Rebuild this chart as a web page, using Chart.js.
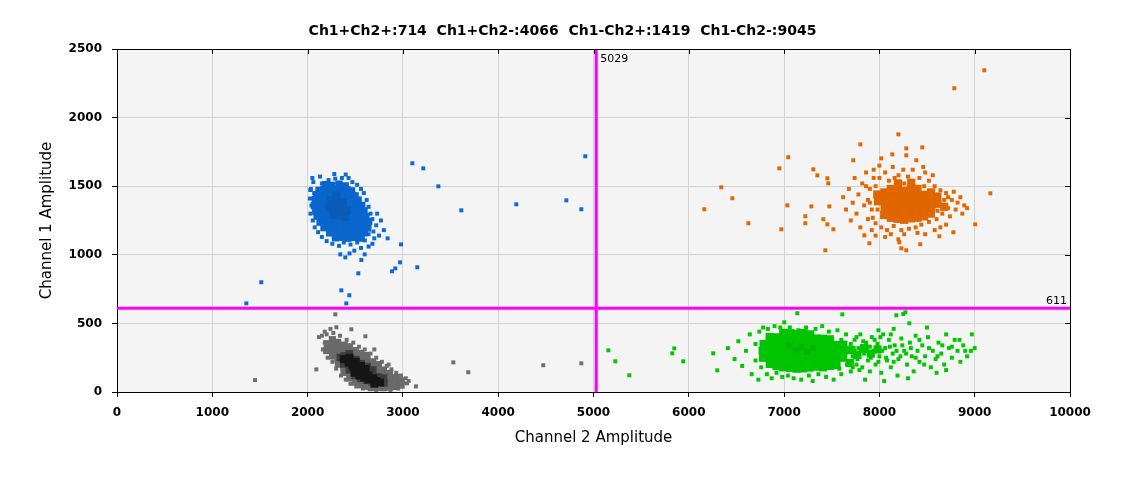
<!DOCTYPE html>
<html>
<head>
<meta charset="utf-8">
<script src="https://cdn.jsdelivr.net/npm/chart.js@4.4.1/dist/chart.umd.min.js"></script>
<style>
  html, body { margin: 0; padding: 0; background: #fff; }
  #wrap { width: 1125px; height: 478px; position: relative; }
</style>
</head>
<body>
<div id="wrap"><canvas id="grafico"></canvas></div>
<script>
const titulo = 'Ch1+Ch2+:714  Ch1+Ch2-:4066  Ch1-Ch2+:1419  Ch1-Ch2-:9045';
const umbralX = 5029;
const umbralY = 611;
const ejeX = { min: 0, max: 10000, paso: 1000 };
const ejeY = { min: 0, max: 2500, paso: 500 };

// Ch1+Ch2- (azul)
const azulCentro = [[2250,1400],[2310,1392],[2372,1380],[2228,1346],[2290,1340],[2352,1332],[2412,1322],[2270,1292],[2332,1286],[2392,1276],[2302,1432]];
const azulCuerpo = [
  [2190,1512],[2255,1506],[2330,1515],[2395,1502],
  [2120,1470],[2172,1478],[2236,1472],[2290,1480],[2352,1468],[2412,1474],[2462,1466],
  [2092,1438],[2150,1444],[2206,1436],[2265,1442],[2322,1434],[2381,1445],[2440,1437],[2498,1430],
  [2080,1402],[2132,1396],[2190,1404],[2246,1398],[2302,1406],[2360,1395],[2421,1401],[2476,1394],[2530,1399],
  [2072,1358],[2126,1364],[2181,1356],[2241,1362],[2296,1355],[2351,1363],[2411,1357],[2466,1361],[2521,1354],[2568,1360],
  [2086,1318],[2141,1324],[2196,1316],[2256,1322],[2311,1317],[2371,1325],[2426,1318],[2481,1323],[2541,1316],[2592,1320],
  [2100,1282],[2161,1276],[2216,1284],[2271,1278],[2331,1283],[2386,1275],[2446,1281],[2501,1277],[2556,1284],[2612,1278],
  [2131,1238],[2186,1244],[2241,1236],[2301,1242],[2356,1237],[2416,1245],[2471,1238],[2526,1243],[2586,1236],[2641,1241],
  [2172,1198],[2226,1204],[2286,1196],[2341,1203],[2401,1197],[2456,1204],[2511,1196],[2571,1202],[2626,1195],
  [2232,1160],[2291,1156],[2351,1163],[2411,1157],[2466,1162],[2526,1155],[2592,1160],
  [2292,1124],[2362,1128],[2422,1121],[2482,1127],[2552,1122]
];
const azulBorde = [
  [2035,1480],[2025,1410],[2040,1360],[2030,1300],[2055,1250],[2075,1200],[2110,1165],[2150,1130],[2200,1100],[2260,1080],
  [2330,1065],[2380,1090],[2450,1075],[2520,1090],[2600,1105],[2640,1150],[2690,1170],[2720,1215],[2680,1260],[2660,1300],
  [2640,1350],[2620,1400],[2590,1450],[2560,1480],[2520,1510],[2470,1530],[2430,1560],[2360,1560],[2290,1555],[2220,1545],
  [2150,1520],[2070,1450],[2060,1530],[2130,1570],[2400,1585],[2750,1140],[2770,1250],[2700,1120],[2560,1050],[2490,1030],
  [2440,1010],[2640,1060],[2730,1300],[2650,1200],[2610,1160],[2580,1130],[2680,1080],[2800,1180],[2840,1120],[2050,1560],
  [3099,1667],[3214,1630],[3372,1499],[3613,1324],[4190,1368],[4715,1397],[4872,1332],[4914,1718],[2980,1076],[3151,909],
  [2970,945],[2920,901],[2886,880],[2532,865],[2564,962],[2599,1003],[2396,981],[2343,1003],[2280,1589],[2028,1472],
  [1514,800],[1357,646],[2354,741],[2438,705],[2406,646]
];

// Ch1-Ch2- (gris)
const grisCentro = [[2430,215],[2440,250],[2480,182],[2492,140],[2506,220],[2540,162],[2544,120],[2586,142],[2594,104],[2640,122],[2646,90],[2690,100],[2560,190],[2610,168],[2720,80],[2470,200],[2380,240],[2760,70],[2700,60]];
const grisMedio = [[2380,205],[2384,262],[2440,162],[2446,222],[2438,278],[2500,122],[2496,178],[2504,236],[2560,100],[2556,152],[2564,206],[2620,86],[2616,132],[2624,186],[2680,76],[2676,116],[2684,160],[2740,70],[2736,110],[2800,66],[2796,102],[2344,252]];
const grisCuerpo = [
  [2200,302],[2205,352],
  [2262,262],[2258,300],[2265,342],[2260,382],
  [2322,202],[2318,242],[2325,282],[2320,322],[2316,362],
  [2382,142],[2378,182],[2385,222],[2380,262],[2376,302],[2384,342],
  [2442,102],[2438,142],[2445,182],[2440,222],[2436,262],[2444,300],[2440,330],
  [2502,72],[2498,112],[2505,152],[2500,192],[2496,232],[2504,270],[2500,302],
  [2562,52],[2558,92],[2565,132],[2560,172],[2556,212],[2564,250],[2560,282],
  [2622,42],[2618,76],[2625,116],[2620,156],[2616,196],[2624,236],[2620,266],
  [2682,32],[2678,66],[2685,102],[2680,142],[2676,182],[2684,220],
  [2742,32],[2738,62],[2745,96],[2740,132],[2736,170],[2744,200],
  [2802,32],[2798,62],[2805,96],[2800,130],[2796,160],
  [2862,36],[2858,70],[2865,104],[2860,136],
  [2922,40],[2918,76],[2925,106],
  [2982,50],[2978,82]
];
const grisBorde = [
  [2150,410],[2180,360],[2160,310],[2210,250],[2260,220],[2300,170],[2350,120],[2400,90],[2450,60],[2510,40],
  [2580,25],[2650,20],[2720,15],[2800,20],[2870,15],[2950,25],[3000,70],[3030,100],[2980,120],[2930,140],
  [2880,165],[2830,190],[2780,220],[2720,250],[2660,280],[2600,310],[2540,330],[2480,360],[2410,380],[2340,410],
  [2270,430],[2200,420],[2120,400],[2240,460],[2180,440],[2960,55],[3060,80],[2910,110],[2850,200],[2700,310],
  [2291,566],[2302,472],[2459,457],[2606,406],[2091,165],[3137,41],[3043,63],[3529,216],[3686,144],[4473,195],
  [4872,209],[1448,87]
];

// Ch1-Ch2+ (verde)
const verdeCentro = [[7120,300],[7180,330],[7240,290],[7300,320],[7060,340]];
const verdeCuerpo = [
  [6780,250],[6775,300],[6785,350],
  [6850,205],[6845,255],[6855,300],[6850,350],[6848,400],
  [6920,190],[6925,245],[6918,292],[6922,345],[6920,398],
  [6990,180],[6985,232],[6995,288],[6990,340],[6988,392],[6992,430],
  [7060,176],[7065,226],[7058,280],[7062,330],[7060,384],[7064,428],
  [7130,170],[7125,222],[7135,276],[7130,326],[7128,378],[7132,424],
  [7200,172],[7205,226],[7198,280],[7202,332],[7200,382],[7204,430],
  [7270,178],[7265,230],[7275,282],[7270,334],[7268,386],[7272,420],
  [7340,185],[7345,236],[7338,288],[7342,336],[7340,390],
  [7410,180],[7405,232],[7415,284],[7410,336],[7408,388],
  [7480,190],[7485,240],[7478,290],[7482,340],[7480,384],
  [7550,196],[7545,246],[7555,294],[7550,342],
  [7620,250],[7618,298],[7622,345],
  [7690,212],[7695,305],
  [7770,270],[7840,320],[7910,280],[7980,310]
];
const verdeBorde = [
  [6410,320],[6480,240],[6520,370],[6560,190],[6600,300],[6640,420],[6660,130],[6700,350],[6700,230],[6730,90],
  [6740,440],[6760,180],[6780,470],[6820,130],[6830,460],[6870,100],[6900,480],[6920,140],[6960,470],[6980,110],
  [7040,120],[7060,470],[7100,100],[7150,450],[7180,90],[7230,470],[7260,120],[7300,80],[7330,460],[7360,130],
  [7400,480],[7440,110],[7470,440],[7520,90],[7560,450],[7600,130],[7650,420],[7700,150],
  [7720,260],[7740,380],[7760,200],[7780,320],[7800,420],[7820,180],[7840,280],[7860,360],[7880,230],[7900,150],
  [7920,400],[7940,300],[7960,200],[7980,350],[8000,260],[8020,140],[8040,420],[8060,320],[8080,230],[8100,380],
  [8120,180],[8140,280],[8160,340],[8190,120],[8200,240],[8230,390],[8260,300],[8290,200],[8320,360],[8340,260],
  [8360,150],[8380,410],[8400,300],[8420,220],[8450,340],[8480,260],[8510,400],[8540,180],[8560,300],[8590,240],
  [8620,360],[8650,280],[8680,200],[8700,420],[8730,320],[8760,250],[8790,380],[8820,300],[8850,220],[8880,340],
  [8920,260],[8960,300],[9000,320],[8970,420],[8600,140],[8300,100],[8050,80],[7850,90],[7990,450],[8150,460],
  [8500,470],[8700,160],[7730,320],[7770,240],[7800,300],[7830,370],[7870,300],[7910,250],[7950,380],[7990,220],
  [8030,300],[8070,250],[8110,330],[8150,220],[8180,300],[8220,260],[8240,340],[8280,280],[7760,400],[7720,180],
  [7790,160],[7900,330],[8010,400],[8120,420],[7600,380],[7660,200],[7700,350],[7580,170],[7640,300],[7740,300],
  [8330,320],[8420,380],[8470,200],[8520,320],[8610,260],[8660,340],[8760,330],[8840,380],[8900,300],[8380,250],
  [5156,304],[5229,224],[5376,122],[5827,282],[5848,318],[5942,224],[6257,282],[6299,158],[7139,574],[7611,566],
  [8178,559],[8251,568],[8272,581],[7002,508],[8314,501]
];

// Ch1+Ch2+ (naranja)
const naranjaCuerpo = [
  [7985,1390],[7978,1440],
  [8050,1290],[8055,1345],[8048,1400],[8052,1455],
  [8120,1270],[8125,1322],[8118,1375],[8122,1430],[8120,1480],
  [8190,1262],[8195,1315],[8188,1368],[8192,1420],[8190,1472],[8194,1520],
  [8260,1255],[8265,1310],[8258,1362],[8262,1415],[8260,1466],
  [8330,1265],[8335,1318],[8328,1370],[8332,1424],[8330,1476],[8334,1525],
  [8400,1270],[8405,1322],[8398,1376],[8402,1430],[8400,1480],
  [8470,1280],[8475,1332],[8468,1385],[8472,1438],
  [8540,1300],[8545,1352],[8538,1405],[8542,1455],
  [8610,1372],[8608,1425],
  [8680,1350]
];
const naranjaBorde = [
  [7620,1420],[7650,1330],[7680,1480],[7700,1250],[7720,1380],[7740,1560],[7760,1300],[7780,1440],[7800,1200],[7820,1520],
  [7840,1360],[7860,1600],[7880,1260],[7900,1480],[7920,1180],[7940,1560],[7960,1230],[7880,1400],[7920,1330],[7940,1620],
  [8000,1560],[8020,1200],[8060,1600],[8080,1180],[8100,1540],[8140,1640],[8150,1210],[8200,1580],[8230,1180],[8250,1620],
  [8300,1570],[8310,1190],[8350,1620],[8380,1200],[8420,1560],[8440,1220],[8480,1600],[8520,1540],[8520,1240],[8580,1500],
  [8600,1260],[8640,1470],[8660,1300],[8700,1450],[8720,1340],[8740,1280],[8760,1400],[8780,1460],[8800,1330],[8820,1380],
  [8850,1420],[8870,1300],[8890,1360],[8920,1340],[8700,1220],[8580,1180],[8060,1130],[7960,1140],[8120,1150],[8260,1150],
  [8400,1160],[8480,1150],[8640,1200],[8560,1580],[8460,1640],[8000,1650],[7860,1500],[7980,1330],[8680,1400],[8470,1500],
  [8610,1320],[8260,1520],[7960,1500],[8560,1410],[8720,1420],[7900,1380],[7930,1270],[8160,1560],
  [8199,1878],[7800,1805],[8450,1783],[8282,1776],[8282,1725],[8135,1732],[8387,1689],[7044,1711],[6950,1630],[7726,1689],
  [8020,1703],[7307,1623],[7349,1579],[6341,1492],[6457,1412],[6163,1332],[6625,1230],[6971,1186],[7034,1360],[7286,1353],
  [7223,1281],[7223,1230],[7412,1259],[7433,1033],[7454,1558],[7464,1521],[7475,1353],[7454,1222],[7517,1186],[7895,1084],
  [7842,1142],[8199,1113],[8209,1091],[8230,1047],[8282,1033],[8429,1077],[8629,1135],[8776,1164],[9006,1222],[9164,1448],
  [9101,2345],[8786,2214]
];

const pts = arr => arr.map(([x, y]) => ({ x, y }));

function nube(datos, color, radio) {
  return {
    type: 'scatter',
    data: pts(datos),
    backgroundColor: color,
    borderWidth: 0,
    pointStyle: 'rect',
    pointRadius: radio,
    pointHoverRadius: radio
  };
}

function linea(datos) {
  return {
    type: 'line',
    data: datos,
    borderColor: '#ff00ff',
    borderWidth: 3,
    pointRadius: 0,
    fill: false
  };
}

const marco = {
  id: 'marco',
  beforeDraw(chart) {
    const { ctx, chartArea: a } = chart;
    ctx.save();
    ctx.fillStyle = '#f4f4f4';
    ctx.fillRect(a.left, a.top, a.right - a.left, a.bottom - a.top);
    ctx.restore();
  },
  afterDraw(chart) {
    const { ctx, chartArea: a, scales } = chart;
    ctx.save();
    ctx.strokeStyle = '#000';
    ctx.lineWidth = 1;
    ctx.beginPath();
    ctx.moveTo(a.left, a.top + 0.5);
    ctx.lineTo(a.right + 0.5, a.top + 0.5);
    ctx.lineTo(a.right + 0.5, a.bottom);
    // marcas interiores arriba y derecha
    scales.x.ticks.forEach(t => {
      const px = Math.round(scales.x.getPixelForValue(t.value)) + 0.5;
      ctx.moveTo(px, a.top);
      ctx.lineTo(px, a.top + 5);
    });
    scales.y.ticks.forEach(t => {
      const py = Math.round(scales.y.getPixelForValue(t.value)) + 0.5;
      ctx.moveTo(a.right, py);
      ctx.lineTo(a.right - 5, py);
    });
    ctx.stroke();

    ctx.fillStyle = '#000';
    ctx.font = 'bold 14px "DejaVu Sans"';
    ctx.textAlign = 'center';
    ctx.textBaseline = 'middle';
    ctx.fillText(titulo, chart.width / 2, 31);

    ctx.font = '11px "DejaVu Sans"';
    ctx.textAlign = 'left';
    ctx.fillText(String(umbralX), scales.x.getPixelForValue(umbralX) + 4, a.top + 10);
    ctx.textAlign = 'right';
    ctx.fillText(String(umbralY), a.right - 3, scales.y.getPixelForValue(umbralY) - 7);
    ctx.restore();
  }
};

const fuenteTicks = { family: 'DejaVu Sans', size: 12, weight: 'bold' };

new Chart(document.getElementById('grafico'), {
  type: 'scatter',
  data: {
    datasets: [
      linea([{ x: umbralX, y: ejeY.min }, { x: umbralX, y: ejeY.max }]),
      linea([{ x: ejeX.min, y: umbralY }, { x: ejeX.max, y: umbralY }]),
      nube(azulCentro, '#0a5cb6', 5.4),
      nube(azulCuerpo, '#0866cc', 5.2),
      nube(azulBorde, '#0a6ad6', 2.8),
      nube(grisCentro, '#161616', 5.6),
      nube(grisMedio, '#3d3d3d', 5.4),
      nube(grisCuerpo, '#6a6a6a', 5),
      nube(grisBorde, '#6e6e6e', 2.8),
      nube(verdeCentro, '#00b400', 4.3),
      nube(verdeCuerpo, '#00c400', 5.8),
      nube(verdeBorde, '#00c800', 2.8),
      nube(naranjaCuerpo, '#e06600', 5.8),
      nube(naranjaBorde, '#e36600', 2.8)
    ]
  },
  options: {
    responsive: true,
    maintainAspectRatio: false,
    animation: false,
    layout: { padding: { top: 49, right: 55, left: 0, bottom: 0 } },
    plugins: {
      legend: { display: false },
      title: { display: false },
      tooltip: { enabled: false }
    },
    scales: {
      x: {
        type: 'linear',
        min: ejeX.min,
        max: ejeX.max,
        ticks: {
          stepSize: ejeX.paso,
          color: '#000',
          padding: 9,
          maxRotation: 0,
          font: fuenteTicks,
          callback: v => String(v)
        },
        grid: { color: '#d3d3d3', tickColor: '#000', tickLength: 5 },
        border: { color: '#000' },
        title: {
          display: true,
          text: 'Channel 2 Amplitude',
          color: '#000',
          font: { family: 'DejaVu Sans', size: 15 },
          padding: { top: 0, bottom: 31 }
        },
        afterFit: s => { s.height = 86; }
      },
      y: {
        type: 'linear',
        min: ejeY.min,
        max: ejeY.max,
        ticks: {
          stepSize: ejeY.paso,
          color: '#000',
          padding: 10,
          font: fuenteTicks,
          callback: v => String(v)
        },
        grid: { color: '#d3d3d3', tickColor: '#000', tickLength: 5 },
        border: { color: '#000' },
        title: {
          display: true,
          text: 'Channel 1 Amplitude',
          color: '#000',
          font: { family: 'DejaVu Sans', size: 15 },
          padding: { top: 38, bottom: 0 }
        },
        afterFit: s => { s.width = 117; }
      }
    }
  },
  plugins: [marco]
});
</script>
</body>
</html>
